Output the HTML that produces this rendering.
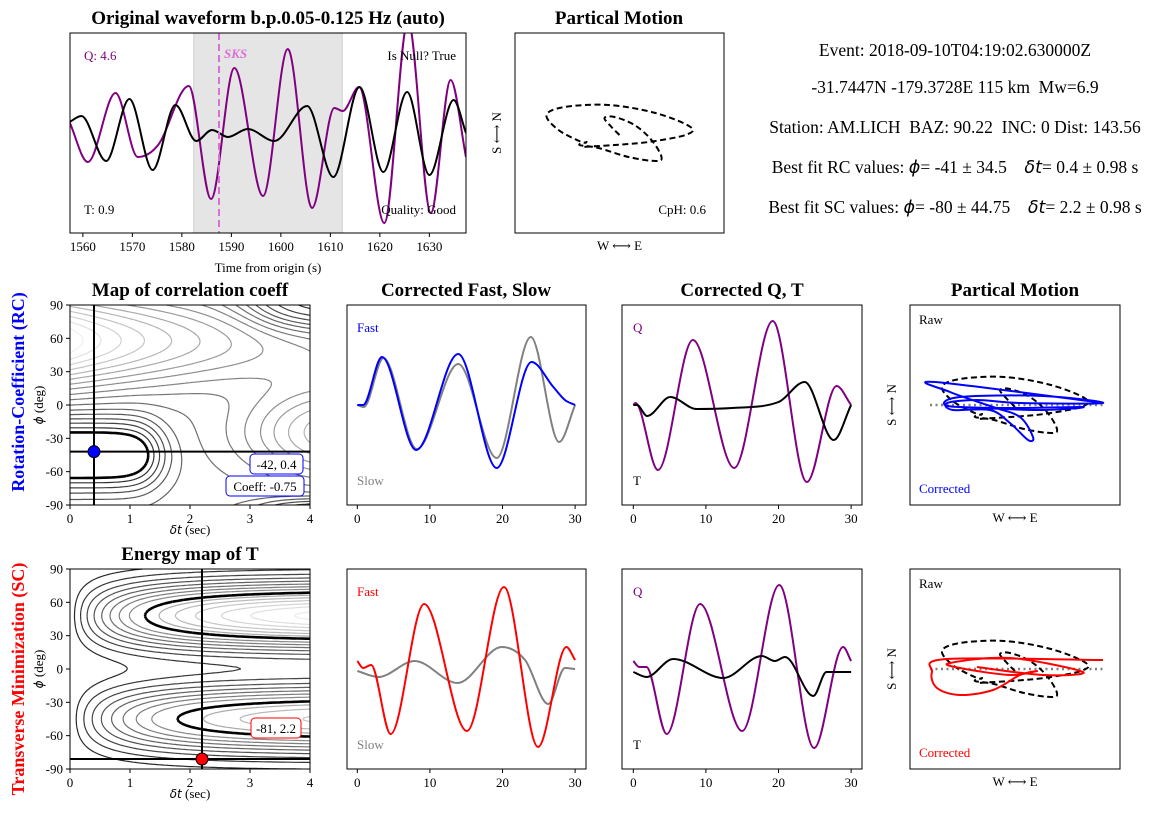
<!DOCTYPE html>
<html><head><meta charset="utf-8">
<style>
html,body{margin:0;padding:0;background:#fff;}
svg{display:block;font-family:"Liberation Serif","DejaVu Serif",serif;}
.t{font-size:13px;}
.ttl{font-size:19px;font-weight:bold;}
.info{font-size:17.5px;white-space:pre;}
</style></head>
<body>
<svg id="fig" width="1163" height="817" viewBox="0 0 1163 817" xmlns="http://www.w3.org/2000/svg" xml:space="preserve">
<rect width="1163" height="817" fill="#fff"/>
<text class="ttl" x="268" y="24" text-anchor="middle">Original waveform b.p.0.05-0.125 Hz (auto)</text>
<text class="ttl" x="619" y="24" text-anchor="middle">Partical Motion</text>
<text class="ttl" x="190" y="296" text-anchor="middle">Map of correlation coeff</text>
<text class="ttl" x="466" y="296" text-anchor="middle">Corrected Fast, Slow</text>
<text class="ttl" x="742" y="296" text-anchor="middle">Corrected Q, T</text>
<text class="ttl" x="1015" y="296" text-anchor="middle">Partical Motion</text>
<text class="ttl" x="190" y="560" text-anchor="middle">Energy map of T</text>
<text x="24" y="392" transform="rotate(-90 24 392)" text-anchor="middle" style="font-size:18px;font-weight:bold;fill:#0000ff">Rotation-Coefficient (RC)</text>
<text x="24" y="679" transform="rotate(-90 24 679)" text-anchor="middle" style="font-size:18px;font-weight:bold;fill:#ff0000">Transverse Minimization (SC)</text>
<g>
<text class="info" x="955" y="56" text-anchor="middle">Event: 2018-09-10T04:19:02.630000Z</text>
<text class="info" x="955" y="93" text-anchor="middle">-31.7447N -179.3728E 115 km  Mw=6.9</text>
<text class="info" x="955" y="133" text-anchor="middle">Station: AM.LICH  BAZ: 90.22  INC: 0 Dist: 143.56</text>
<text class="info" x="955" y="173" text-anchor="middle">Best fit RC values: <tspan font-style="italic" font-family="DejaVu Sans">ϕ</tspan>= -41 ± 34.5    <tspan font-style="italic" font-family="DejaVu Sans">δt</tspan>= 0.4 ± 0.98 s</text>
<text class="info" x="955" y="213" text-anchor="middle">Best fit SC values: <tspan font-style="italic" font-family="DejaVu Sans">ϕ</tspan>= -80 ± 44.75    <tspan font-style="italic" font-family="DejaVu Sans">δt</tspan>= 2.2 ± 0.98 s</text>
</g>
<g id="plots"></g>
</svg>
<script>
// ---------- data ----------
const topTicks = [1560,1570,1580,1590,1600,1610,1620,1630];
const topQt = [1557.3,1561.0,1566.6,1571.1,1575.2,1581.4,1585.9,1590.6,1596.4,1601.4,1606.3,1610.8,1612.5,1615.8,1620.9,1625.7,1630.3,1634.3,1637.4];
const topQv = [0.11,-0.29,0.40,-0.24,-0.12,0.47,-0.66,0.65,-0.63,0.84,-0.75,0.25,0.22,0.46,-0.90,1.12,-0.80,0.53,-0.24];
const topTt = [1557.3,1559.7,1564.7,1569.4,1574.1,1578.7,1582.9,1586.1,1589.3,1593.3,1598.7,1605.3,1610.6,1615.9,1620.7,1625.5,1630.0,1634.9,1637.4];
const topTv = [0.11,0.17,-0.28,0.34,-0.37,0.28,-0.08,0.03,-0.04,0.04,-0.08,0.27,-0.44,0.46,-0.39,0.41,-0.42,0.33,0.0];
const windowRange = [1582.4,1612.4];
const sksTime = 1587.5;

const pmRawX = [0.0,-0.08,-0.15,-0.05,0.15,0.32,0.42,0.36,0.09,-0.21,-0.40,-0.33,-0.38,-0.61,-0.73,-0.55,-0.11,0.36,0.71,0.66,0.29,-0.05,-0.38];
const pmRawY = [-0.02,0.06,0.15,0.16,0.08,-0.07,-0.24,-0.28,-0.24,-0.15,-0.12,-0.09,-0.09,0.03,0.18,0.26,0.28,0.20,0.06,-0.02,-0.09,-0.12,-0.14];

const rcFastT = [0,0.8,3.4,8.1,13.9,19.2,24.0,27.0,28.6,30];
const rcFastV = [0,0,0.48,-0.45,0.51,-0.63,0.43,0.18,0.05,0];
const rcSlowT = [0,0.9,3.6,8.2,13.9,19.2,23.9,27.8,30];
const rcSlowV = [0,-0.02,0.47,-0.44,0.41,-0.53,0.68,-0.37,0];
const rcQT = [0,0.3,3.4,8.2,13.9,19.2,23.9,28.0,30];
const rcQV = [0,0.02,-0.65,0.65,-0.63,0.84,-0.77,0.19,0];
const rcTT = [0,0.5,1.9,5.1,8.7,13.6,20,23.6,27.6,30];
const rcTV = [0,0,-0.11,0.08,-0.04,-0.03,0.03,0.23,-0.35,0];
const rcCorX = [0.88,-0.80,-0.65,-0.22,0.05,0.18,0.13,-0.05,-0.25,-0.62,-0.68,-0.38,0.05,0.88,0.28,-0.55,-0.67,-0.05,0.68,0.28,-0.38];
const rcCorY = [0.02,0.23,0.13,-0.02,-0.12,-0.32,-0.35,-0.18,-0.05,-0.05,0.02,0.05,0.02,0.02,0.09,0.08,-0.01,-0.03,-0.02,-0.05,-0.03];

const scFastT = [0,0.8,1.9,4.6,9.2,15.1,20.2,24.9,28.8,30];
const scFastV = [0.08,0.01,0.04,-0.65,0.65,-0.62,0.82,-0.78,0.22,0.09];
const scSlowT = [0,2.9,7.9,13.8,19.9,23.1,26.3,28.6,30];
const scSlowV = [-0.02,-0.08,0.08,-0.14,0.22,0.09,-0.35,0.01,0.0];
const scQT = [0,0.8,1.8,4.6,9.2,15.0,20.1,24.9,28.9,30];
const scQV = [0.08,0.02,0.02,-0.65,0.65,-0.62,0.84,-0.79,0.22,0.08];
const scTT = [0,1.8,5.5,12.4,17.7,19.5,20.9,24.8,26.6,30];
const scTV = [-0.03,-0.08,0.10,-0.09,0.13,0.08,0.12,-0.27,-0.03,-0.03];
const scCorX = [0.88,-0.68,-0.83,-0.78,-0.55,-0.22,0.05,0.22,-0.05,-0.55,-0.65,-0.05,0.68,0.28,-0.38];
const scCorY = [0.09,0.10,-0.03,-0.19,-0.26,-0.21,-0.06,-0.02,-0.06,0.01,0.06,0.11,-0.03,-0.06,0.02];

const mapXTicks = [0,1,2,3,4];
const mapYTicks = [90,60,30,0,-30,-60,-90];
const waveTicks = [0,10,20,30];
const rcBest = [0.4,-42];
const scBest = [2.2,-81];
const rcLevels = [-0.5,-0.38,-0.27,-0.18,-0.1,-0.03,0.04,0.11,0.18,0.26,0.34,0.43,0.52,0.62,0.72,0.82,0.92];
const scLevels = [0.08,0.14,0.2,0.26,0.32,0.38,0.44,0.5,0.58,0.64,0.7,0.76,0.82,0.87,0.92];

// ---------- helpers ----------
const NS = "http://www.w3.org/2000/svg";
const root = document.getElementById('plots');
function mk(tag, attrs, parent, name, inter){
  const el = document.createElementNS(NS, tag);
  for (const k in attrs) el.setAttribute(k, attrs[k]);
  
  
  (parent || root).appendChild(el);
  return el;
}
function axes(x0,y0,w,h,xmin,xmax,ymin,ymax,name){
  const a = {x0,y0,w,h,xmin,xmax,ymin,ymax};
  a.sx = v => x0 + (v - xmin)/(xmax - xmin)*w;
  a.sy = v => y0 + h - (v - ymin)/(ymax - ymin)*h;
  a.g = mk('g', {}, root, name, false);
  const cp = mk('clipPath', {id: 'clip-'+name}, a.g, name+'-clip', false);
  mk('rect', {x:x0, y:y0, width:w, height:h}, cp, name+'-clip-rect', false);
  a.inner = mk('g', {'clip-path':'url(#clip-'+name+')'}, a.g, name+'-plot-area', false);
  return a;
}
function frame(a){
  mk('rect', {x:a.x0, y:a.y0, width:a.w, height:a.h, fill:'none', stroke:'#000', 'stroke-width':1}, a.g, 'axes-frame', false);
}
function xTicks(a, ticks, name){
  ticks.forEach(t => {
    const x = a.sx(t);
    mk('line', {x1:x, x2:x, y1:a.y0+a.h, y2:a.y0+a.h+4, stroke:'#000'}, a.g, name+'-tick', false);
    const tx = mk('text', {x:x, y:a.y0+a.h+18, 'text-anchor':'middle', class:'t', fill:'#000'}, a.g, name+'-tick-label', false);
    tx.textContent = t;
  });
}
function yTicks(a, ticks, name){
  ticks.forEach(t => {
    const y = a.sy(t);
    mk('line', {x1:a.x0-4, x2:a.x0, y1:y, y2:y, stroke:'#000'}, a.g, name+'-tick', false);
    const tx = mk('text', {x:a.x0-7, y:y+4.5, 'text-anchor':'end', class:'t', fill:'#000'}, a.g, name+'-tick-label', false);
    tx.textContent = t;
  });
}
function label(a, x, y, txt, color, anchor, name, extra){
  const t = mk('text', Object.assign({x:x, y:y, 'text-anchor':anchor||'start', class:'t', fill:color||'#000'}, extra||{}), a.g, name, false);
  t.textContent = txt;
  return t;
}
function monoPath(a, ts, vs){
  const px = ts.map(a.sx), py = vs.map(a.sy), n = px.length;
  const d = [], m = [];
  for (let i=0;i<n-1;i++) d.push((py[i+1]-py[i])/(px[i+1]-px[i]));
  m[0] = d[0]; m[n-1] = d[n-2];
  for (let i=1;i<n-1;i++) m[i] = (d[i-1]*d[i] <= 0) ? 0 : (d[i-1]+d[i])/2;
  for (let i=0;i<n-1;i++){
    if (d[i] === 0){ m[i]=0; m[i+1]=0; continue; }
    const al = m[i]/d[i], be = m[i+1]/d[i], s = al*al+be*be;
    if (s > 9){ const tt = 3/Math.sqrt(s); m[i]=tt*al*d[i]; m[i+1]=tt*be*d[i]; }
  }
  let s = 'M'+px[0].toFixed(2)+','+py[0].toFixed(2);
  for (let i=0;i<n-1;i++){
    const h = (px[i+1]-px[i])/3;
    s += 'C'+(px[i]+h).toFixed(2)+','+(py[i]+m[i]*h).toFixed(2)+' '+(px[i+1]-h).toFixed(2)+','+(py[i+1]-m[i+1]*h).toFixed(2)+' '+px[i+1].toFixed(2)+','+py[i+1].toFixed(2);
  }
  return s;
}
function series(a, ts, vs, color, name){
  mk('path', {d:monoPath(a, ts, vs), fill:'none', stroke:color, 'stroke-width':2, 'stroke-linejoin':'round'}, a.inner, name, false);
}
function crPath(a, xs, ys){
  const p = xs.map((x,i)=>[a.sx(x), a.sy(ys[i])]);
  let s = 'M'+p[0][0].toFixed(2)+','+p[0][1].toFixed(2);
  for (let i=0;i<p.length-1;i++){
    const p0 = p[Math.max(0,i-1)], p1 = p[i], p2 = p[i+1], p3 = p[Math.min(p.length-1,i+2)];
    const c1 = [p1[0]+(p2[0]-p0[0])/6, p1[1]+(p2[1]-p0[1])/6];
    const c2 = [p2[0]-(p3[0]-p1[0])/6, p2[1]-(p3[1]-p1[1])/6];
    s += 'C'+c1[0].toFixed(2)+','+c1[1].toFixed(2)+' '+c2[0].toFixed(2)+','+c2[1].toFixed(2)+' '+p2[0].toFixed(2)+','+p2[1].toFixed(2);
  }
  return s;
}
function pmPanel(a, corX, corY, corColor, prefix, refLine){
  if (refLine) mk('line', {x1:a.sx(-0.85), x2:a.sx(0.88), y1:a.sy(0), y2:a.sy(0), stroke:'#808080', 'stroke-width':2.5, 'stroke-dasharray':'2,3.5'}, a.inner, prefix+'-reference-line', false);
  mk('path', {d:crPath(a, pmRawX, pmRawY), fill:'none', stroke:'#000', 'stroke-width':2, 'stroke-dasharray':'6,3.5'}, a.inner, prefix+'-raw-motion', false);
  if (corX) mk('path', {d:crPath(a, corX, corY), fill:'none', stroke:corColor, 'stroke-width':2}, a.inner, prefix+'-corrected-motion', false);
}
function pmLabels(a, prefix){
  label(a, a.x0+a.w/2, a.y0+a.h+17, 'W ⟷ E', '#000', 'middle', prefix+'-x-label');
  const cx = a.x0-14, cy = a.y0+a.h/2;
  label(a, cx, cy, 'S ⟷ N', '#000', 'middle', prefix+'-y-label', {transform:'rotate(-90 '+cx+' '+cy+')'});
}
function contours(a, f, levels, thickLevel, gLo, gHi, name){
  const nx = 110, ny = 110, vals = [];
  for (let i=0;i<=nx;i++){ vals.push([]); for (let j=0;j<=ny;j++){
    const x = a.xmin + (a.xmax-a.xmin)*i/nx, y = a.ymin + (a.ymax-a.ymin)*j/ny;
    vals[i].push(f(x,y)); } }
  const lo = levels[0], hi = levels[levels.length-1];
  levels.forEach(L => {
    let d = '';
    for (let i=0;i<nx;i++) for (let j=0;j<ny;j++){
      const c = [[i,j],[i+1,j],[i+1,j+1],[i,j+1]];
      const pts = [];
      for (let e=0;e<4;e++){
        const A = c[e], B = c[(e+1)%4], va = vals[A[0]][A[1]], vb = vals[B[0]][B[1]];
        if ((va-L)*(vb-L) < 0){
          const t = (L-va)/(vb-va);
          const gi = A[0]+(B[0]-A[0])*t, gj = A[1]+(B[1]-A[1])*t;
          pts.push([a.x0 + gi/nx*a.w, a.y0 + a.h - gj/ny*a.h]);
        }
      }
      for (let k=0;k+1<pts.length;k+=2)
        d += 'M'+pts[k][0].toFixed(1)+','+pts[k][1].toFixed(1)+'L'+pts[k+1][0].toFixed(1)+','+pts[k+1][1].toFixed(1);
    }
    const tt = (L-lo)/(hi-lo), gv = Math.round(gLo + tt*(gHi-gLo));
    const thick = (L === thickLevel);
    mk('path', {d:d, fill:'none', stroke: thick ? '#000' : 'rgb('+gv+','+gv+','+gv+')', 'stroke-width': thick ? 2.6 : 1.2}, a.inner, name+'-contour', false);
  });
}
function mapAxes(a, prefix){
  xTicks(a, mapXTicks, prefix+'-x');
  yTicks(a, mapYTicks, prefix+'-y');
  const xl = mk('text', {x:a.x0+a.w/2, y:a.y0+a.h+29, 'text-anchor':'middle', class:'t', fill:'#000'}, a.g, prefix+'-x-axis-title', false);
  xl.innerHTML = '<tspan font-style="italic" font-family="DejaVu Sans" font-size="12">δt</tspan> (sec)';
  const cx = a.x0-27, cy = a.y0+a.h/2;
  const yl = mk('text', {x:cx, y:cy, 'text-anchor':'middle', class:'t', fill:'#000', transform:'rotate(-90 '+cx+' '+cy+')'}, a.g, prefix+'-y-axis-title', false);
  yl.innerHTML = '<tspan font-style="italic" font-family="DejaVu Sans" font-size="12">ϕ</tspan> (deg)';
}
function box(a, x, y, w, txt, color, name){
  mk('rect', {x:x, y:y, width:w, height:20, rx:4, fill:'#fff', stroke:color, 'stroke-width':1}, a.g, name+'-box', false);
  label(a, x+w/2, y+15, txt, '#000', 'middle', name);
}
const sig = z => 1/(1+Math.exp(-z));
const gau = (v,c,w) => Math.exp(-((v-c)/w)*((v-c)/w));

// ---------- top waveform ----------
const aw = axes(70,33,396,200,1557.4,1637.4,-1,1,'waveform-axes');
mk('rect', {x:aw.sx(windowRange[0]), y:aw.y0, width:aw.sx(windowRange[1])-aw.sx(windowRange[0]), height:aw.h, fill:'#e5e5e5', stroke:'#d0d0d0'}, aw.inner, 'analysis-window', false);
series(aw, topQt, topQv, '#800080', 'waveform-q');
series(aw, topTt, topTv, '#000', 'waveform-t');
mk('line', {x1:aw.sx(sksTime), x2:aw.sx(sksTime), y1:aw.y0, y2:aw.y0+aw.h, stroke:'#da70d6', 'stroke-width':2, 'stroke-dasharray':'7,4'}, aw.inner, 'sks-marker', false);
frame(aw);
xTicks(aw, topTicks, 'waveform-x');
label(aw, 268, 272, 'Time from origin (s)', '#000', 'middle', 'waveform-x-axis-title');
label(aw, 224, 58, 'SKS', '#da70d6', 'start', 'sks-label', {'font-style':'italic','font-weight':'bold','font-size':'17'});
label(aw, 84, 60, 'Q: 4.6', '#800080', 'start', 'q-snr-label');
label(aw, 456, 60, 'Is Null? True', '#000', 'end', 'null-label');
label(aw, 84, 214, 'T: 0.9', '#000', 'start', 't-snr-label');
label(aw, 456, 214, 'Quality: Good', '#000', 'end', 'quality-label');

const ap = axes(515,33,209,200,-1.045,1.045,-1,1,'top-pm-axes');
pmPanel(ap, null, null, null, 'top-pm', false);
frame(ap); pmLabels(ap, 'top-pm');
label(ap, 706, 214, 'CpH: 0.6', '#000', 'end', 'cph-label');

// ---------- RC row ----------
const am1 = axes(70,305,240,200,0,4,-90,90,'rc-map-axes');
contours(am1, (x,y) => 1.0*gau(y,58,38)*Math.exp(-x/2.6)
  - 0.9*gau(y,-45,27)*sig(-(x-1.35)/0.18)
  + 0.75*gau(y,-25,38)*sig((x-3.5)/0.5)
  - 0.6*gau(y,95,28)*sig((x-3.2)/0.35)
  - 0.6*gau(y,-98,12)*sig((x-3.4)/0.3), rcLevels, -0.5, 30, 240, 'rc-map');
mk('line', {x1:am1.sx(rcBest[0]), x2:am1.sx(rcBest[0]), y1:am1.y0, y2:am1.y0+am1.h, stroke:'#000', 'stroke-width':2}, am1.inner, 'rc-best-dt-line', false);
mk('line', {x1:am1.x0, x2:am1.x0+am1.w, y1:am1.sy(rcBest[1]), y2:am1.sy(rcBest[1]), stroke:'#000', 'stroke-width':2}, am1.inner, 'rc-best-phi-line', false);
mk('circle', {cx:am1.sx(rcBest[0]), cy:am1.sy(rcBest[1]), r:6, fill:'#0000ff', stroke:'#000'}, am1.inner, 'rc-best-fit-marker', false);
frame(am1); mapAxes(am1, 'rc-map');
box(am1, 250, 454, 53, '-42, 0.4', '#0000ff', 'rc-best-value');
box(am1, 226, 476, 78, 'Coeff: -0.75', '#0000ff', 'rc-coeff-value');

const af1 = axes(347,305,239,200,-1.42,31.5,-1,1,'rc-fast-slow-axes');
series(af1, rcSlowT, rcSlowV, '#808080', 'rc-slow');
series(af1, rcFastT, rcFastV, '#0000ff', 'rc-fast');
frame(af1); xTicks(af1, waveTicks, 'rc-fs-x');
label(af1, 357, 332, 'Fast', '#0000ff', 'start', 'rc-fast-label');
label(af1, 357, 485, 'Slow', '#808080', 'start', 'rc-slow-label');

const aq1 = axes(622,305,240,200,-1.56,31.5,-1,1,'rc-qt-axes');
series(aq1, rcQT, rcQV, '#800080', 'rc-q');
series(aq1, rcTT, rcTV, '#000', 'rc-t');
frame(aq1); xTicks(aq1, waveTicks, 'rc-qt-x');
label(aq1, 633, 332, 'Q', '#800080', 'start', 'rc-q-label');
label(aq1, 633, 485, 'T', '#000', 'start', 'rc-t-label');

const ar1 = axes(910,305,210,200,-1.05,1.05,-1,1,'rc-pm-axes');
pmPanel(ar1, rcCorX, rcCorY, '#0000ff', 'rc-pm', true);
frame(ar1); pmLabels(ar1, 'rc-pm');
label(ar1, 919, 324, 'Raw', '#000', 'start', 'rc-raw-label');
label(ar1, 919, 493, 'Corrected', '#0000ff', 'start', 'rc-corrected-label');

// ---------- SC row ----------
const am2 = axes(70,569,240,200,0,4,-90,90,'sc-map-axes');
contours(am2, (x,y) => (1-Math.exp(-(x+0.05)/1.5))*(gau(y,48,30) + 0.82*gau(y,-45,30)), scLevels, 0.58, 40, 235, 'sc-map');
mk('line', {x1:am2.sx(scBest[0]), x2:am2.sx(scBest[0]), y1:am2.y0, y2:am2.y0+am2.h, stroke:'#000', 'stroke-width':2}, am2.inner, 'sc-best-dt-line', false);
mk('line', {x1:am2.x0, x2:am2.x0+am2.w, y1:am2.sy(scBest[1]), y2:am2.sy(scBest[1]), stroke:'#000', 'stroke-width':2}, am2.inner, 'sc-best-phi-line', false);
mk('circle', {cx:am2.sx(scBest[0]), cy:am2.sy(scBest[1]), r:6, fill:'#ff0000', stroke:'#000'}, am2.g, 'sc-best-fit-marker', false);
frame(am2); mapAxes(am2, 'sc-map');
box(am2, 251, 718, 50, '-81, 2.2', '#ff0000', 'sc-best-value');

const af2 = axes(347,569,239,200,-1.42,31.5,-1,1,'sc-fast-slow-axes');
series(af2, scSlowT, scSlowV, '#808080', 'sc-slow');
series(af2, scFastT, scFastV, '#ff0000', 'sc-fast');
frame(af2); xTicks(af2, waveTicks, 'sc-fs-x');
label(af2, 357, 596, 'Fast', '#ff0000', 'start', 'sc-fast-label');
label(af2, 357, 749, 'Slow', '#808080', 'start', 'sc-slow-label');

const aq2 = axes(622,569,240,200,-1.56,31.5,-1,1,'sc-qt-axes');
series(aq2, scQT, scQV, '#800080', 'sc-q');
series(aq2, scTT, scTV, '#000', 'sc-t');
frame(aq2); xTicks(aq2, waveTicks, 'sc-qt-x');
label(aq2, 633, 596, 'Q', '#800080', 'start', 'sc-q-label');
label(aq2, 633, 749, 'T', '#000', 'start', 'sc-t-label');

const ar2 = axes(910,569,210,200,-1.05,1.05,-1,1,'sc-pm-axes');
pmPanel(ar2, scCorX, scCorY, '#ff0000', 'sc-pm', true);
frame(ar2); pmLabels(ar2, 'sc-pm');
label(ar2, 919, 588, 'Raw', '#000', 'start', 'sc-raw-label');
label(ar2, 919, 757, 'Corrected', '#ff0000', 'start', 'sc-corrected-label');
</script>
</body></html>
